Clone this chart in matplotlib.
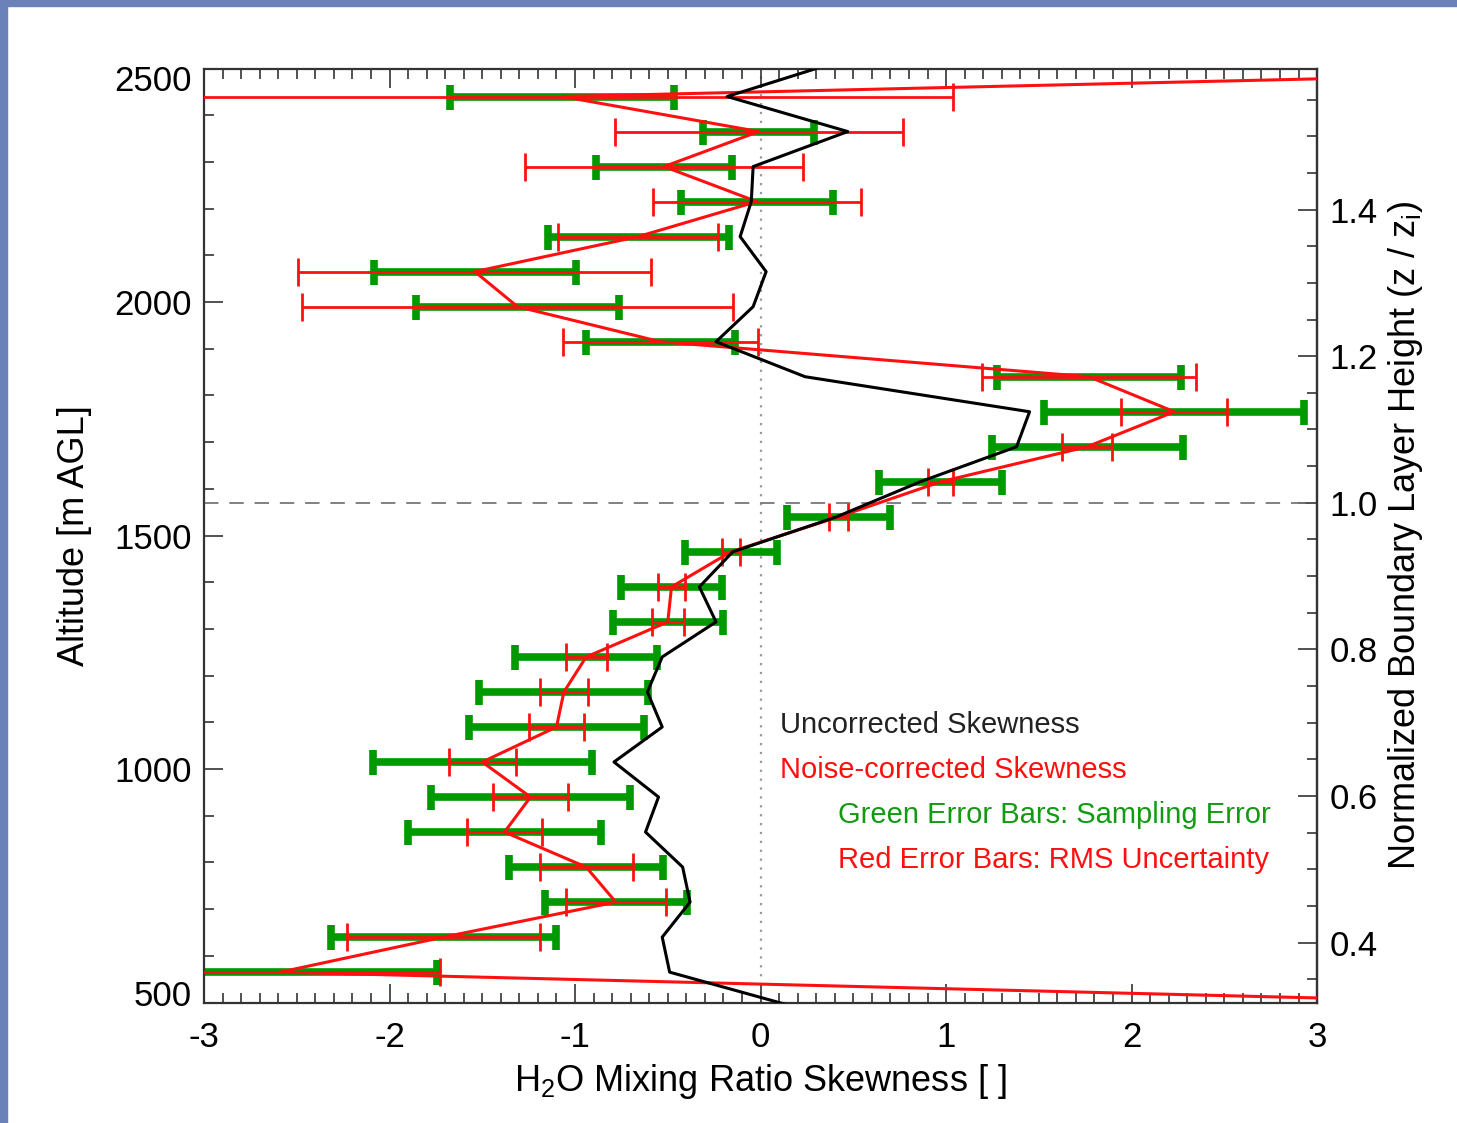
import numpy as np
import matplotlib
matplotlib.use("Agg")
import matplotlib.pyplot as plt
from matplotlib.ticker import MultipleLocator, FixedLocator, FormatStrFormatter
from matplotlib.patches import Rectangle
from matplotlib.transforms import ScaledTranslation

plt.rcParams['font.family'] = ['Liberation Sans', 'DejaVu Sans']
plt.rcParams['mathtext.default'] = 'regular'
plt.rcParams['axes.unicode_minus'] = False

# altitude levels [m AGL]; first and last only feed the lines (outside the plot range)
alt = [490, 565, 640, 715, 790, 865, 940, 1015, 1090, 1165, 1240, 1315, 1390,
       1465, 1540, 1615, 1690, 1765, 1840, 1915, 1990, 2065, 2140, 2215, 2290,
       2365, 2440, 2515]

uncorrected = [0.19, -0.49, -0.53, -0.38, -0.42, -0.62, -0.55, -0.79, -0.53, -0.61,
               -0.53, -0.24, -0.33, -0.15, 0.41, 0.86, 1.38, 1.45, 0.24, -0.24,
               -0.04, 0.03, -0.11, -0.05, -0.04, 0.47, -0.18, 0.42]

corrected = [5.0, -2.59, -1.71, -0.78, -0.94, -1.38, -1.24, -1.50, -1.10, -1.06,
             -0.94, -0.50, -0.48, -0.16, 0.42, 0.97, 1.76, 2.23, 1.77, -0.54,
             -1.31, -1.54, -0.66, -0.02, -0.52, -0.01, -1.07, 7.0]

# error bars for the levels 565 .. 2440
rms_err = [0.86, 0.52, 0.27, 0.25, 0.20, 0.20, 0.18, 0.15, 0.13, 0.11, 0.085, 0.074,
           0.049, 0.050, 0.066, 0.133, 0.286, 0.575, 0.526, 1.159, 0.951, 0.433,
           0.560, 0.749, 0.776, 2.105]
sampling_err = [0.845, 0.606, 0.384, 0.416, 0.521, 0.534, 0.591, 0.470, 0.456, 0.382,
                0.295, 0.274, 0.247, 0.278, 0.329, 0.515, 0.701, 0.494, 0.400, 0.546,
                0.545, 0.488, 0.408, 0.365, 0.300, 0.603]

zi = 1570.  # boundary layer height [m]

fig = plt.figure(figsize=(14.57, 11.23), dpi=100)
fig.patches.append(Rectangle((0, 1 - 6/1123.), 1, 6/1123., transform=fig.transFigure,
                             color='#6a82b9', zorder=-10))
fig.patches.append(Rectangle((0, 0), 7/1457., 1, transform=fig.transFigure,
                             color='#6a82b9', zorder=-10))
ax = fig.add_axes([0.140, 0.1073, 0.764, 0.8317])

ax.axvline(0, color='#999999', ls=(0, (1, 3)), lw=1.6, zorder=1)
ax.axhline(zi, color='#777777', ls=(0, (8, 6)), lw=1.3, zorder=1)

a_err = alt[1:-1]
c_err = corrected[1:-1]
ax.errorbar(c_err, a_err, xerr=sampling_err, fmt='none', ecolor='#009900',
            elinewidth=5.5, capsize=9, capthick=5.5, zorder=2)
ax.errorbar(c_err, a_err, xerr=rms_err, fmt='none', ecolor='#ff1010',
            elinewidth=2, capsize=10, capthick=2, zorder=3)
ax.plot(corrected, alt, color='#ff1010', lw=2.2, zorder=4)
ax.plot(uncorrected, alt, color='black', lw=2.2, zorder=5)

ax.set_xlim(-3, 3)
ax.set_ylim(500, 2500)
ax.xaxis.set_major_locator(MultipleLocator(1))
ax.xaxis.set_minor_locator(MultipleLocator(0.1))
ax.yaxis.set_major_locator(FixedLocator([500, 1000, 1500, 2000, 2500]))
ax.yaxis.set_minor_locator(MultipleLocator(100))
ax.tick_params(which='both', direction='in', top=True, right=False, width=1.2,
               color='#333333', labelsize=25)
ax.tick_params(which='major', length=14)
ax.tick_params(which='minor', length=7)
ax.tick_params(axis='x', pad=13)
ax.tick_params(axis='y', pad=9)
for s in ax.spines.values():
    s.set_linewidth(1.6)
    s.set_color('#333333')

ax.set_xlabel('H$_2$O Mixing Ratio Skewness [ ]', fontsize=26, labelpad=6)
ax.set_ylabel('Altitude [m AGL]', fontsize=26, labelpad=16)

sec = ax.secondary_yaxis('right', functions=(lambda a: a / zi, lambda r: r * zi))
sec.yaxis.set_major_locator(FixedLocator([0.4, 0.6, 0.8, 1.0, 1.2, 1.4]))
sec.yaxis.set_minor_locator(MultipleLocator(0.05))
sec.yaxis.set_major_formatter(FormatStrFormatter('%.1f'))
sec.tick_params(which='both', direction='in', width=1.2, color='#333333',
                labelsize=25, pad=9)
sec.tick_params(which='major', length=14)
sec.tick_params(which='minor', length=7)
sec.spines['right'].set_linewidth(1.6)
sec.spines['right'].set_color('#333333')
sec.set_ylabel('Normalized Boundary Layer Height (z / z$_i$)', fontsize=26, labelpad=6)

ax.text(0.105, 1094, 'Uncorrected Skewness', color='#222222', fontsize=21, va='center')
ax.text(0.105, 998, 'Noise-corrected Skewness', color='#ff1010', fontsize=21, va='center')
ax.text(0.417, 902, 'Green Error Bars: Sampling Error', color='#139a13', fontsize=21,
        va='center')
ax.text(0.417, 805, 'Red Error Bars: RMS Uncertainty', color='#ff1010', fontsize=21,
        va='center')

# end labels of the altitude axis sit just inside the axis range
fig.canvas.draw()
yt = ax.yaxis.get_major_ticks()
shift = 9.5 / 100.
yt[0].label1.set_transform(yt[0].label1.get_transform() +
                           ScaledTranslation(0, shift, fig.dpi_scale_trans))
yt[-1].label1.set_transform(yt[-1].label1.get_transform() +
                            ScaledTranslation(0, -shift, fig.dpi_scale_trans))

fig.savefig('out.png', dpi=100)
